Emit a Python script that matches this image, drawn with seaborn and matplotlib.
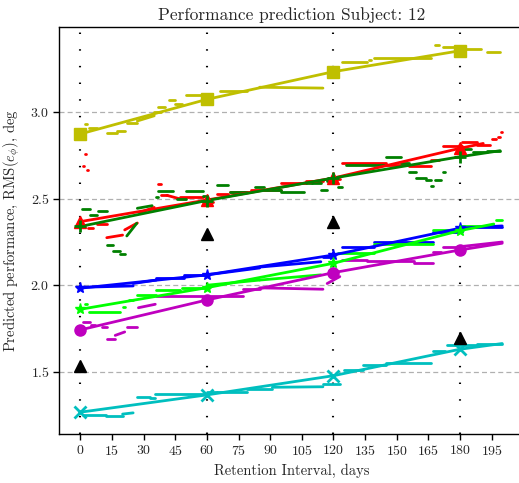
import matplotlib
matplotlib.use("Agg")
import matplotlib.pyplot as plt
import numpy as np
import pandas as pd
import seaborn as sns

# Days at which retention was tested, and the measured performance there
checkpoints = [0, 60, 120, 180]
measured = [1.535, 2.298, 2.367, 1.697]

# Model order, colours and checkpoint markers
models = ["y", "r", "g", "b", "lime", "m", "c"]
colors = {"y": "#bfbf00", "r": "#ff0000", "g": "#008000", "b": "#0000ff",
          "lime": "#00ff00", "m": "#bf00bf", "c": "#00bfbf"}
markers = {"y": "s", "r": "^", "g": "+", "b": "*", "lime": "*", "m": "o", "c": "x"}

# Fitted prediction at the checkpoints, plus the last day of the fit
fit_y = [2.875, 3.075, 3.235, 3.356]
fit_r = [2.368, 2.493, 2.620, 2.792]
fit_g = [2.340, 2.490, 2.620, 2.743]
fit_b = [1.983, 2.060, 2.175, 2.330]
fit_lime = [1.861, 1.986, 2.127, 2.316]
fit_m = [1.742, 1.915, 2.073, 2.204]
fit_c = [1.266, 1.366, 1.477, 1.630]
fit_end = {"y": (180, 3.356), "r": (191, 2.82), "g": (199, 2.778), "b": (200, 2.343),
           "lime": (196, 2.354), "m": (200, 2.243), "c": (200, 1.663)}

# Daily predictions, stored as runs: (first day, last day, value[, value at last day])
runs_y = [(2, 3, 2.93), (4, 8, 2.91), (12.5, 17.5, 2.88), (17.5, 21, 2.89), (22, 27, 2.94),
          (27, 35, 2.95, 2.98), (35, 38, 3.0), (37, 40, 3.03), (42, 45, 3.07), (45, 48, 3.05),
          (50, 60, 3.10), (66, 79, 3.125), (85, 115, 3.145, 3.14), (124, 136, 3.29),
          (137, 138, 3.30), (139, 166, 3.315), (168, 170, 3.39), (172, 178, 3.375),
          (180, 190, 3.365), (193, 199, 3.35)]
runs_r = [(1, 1.8, 2.69), (2, 2.8, 2.76), (3, 3.8, 2.666), (3.6, 6, 2.33), (7.8, 12.5, 2.353),
          (12.5, 20, 2.275, 2.29), (21, 27, 2.32, 2.36), (28, 35, 2.42, 2.45), (37, 38, 2.585),
          (38, 41, 2.52), (41, 47, 2.52, 2.50), (47, 58, 2.51), (60, 63, 2.48), (65, 70, 2.53),
          (71, 80, 2.54), (81, 95, 2.55), (95, 107, 2.59), (107, 115, 2.60), (116, 123, 2.615),
          (124, 145, 2.705), (145, 156, 2.695), (156, 166, 2.69), (166, 170, 2.724),
          (172, 181, 2.805), (181, 188, 2.83), (188, 194, 2.81), (195, 197, 2.844),
          (198, 199, 2.86), (199.3, 200, 2.884)]
runs_g = [(0.7, 4.6, 2.44), (4.6, 7.8, 2.406), (8.4, 12.5, 2.43), (12.5, 15.5, 2.233),
          (15.5, 19, 2.2), (19, 21, 2.18), (22, 26.7, 2.285, 2.358), (27, 34, 2.445, 2.46),
          (36, 37, 2.51), (37, 44, 2.547), (46, 50, 2.50), (50, 58, 2.547), (58, 60, 2.516),
          (65, 70, 2.58), (71, 79, 2.54), (83, 87, 2.57), (87, 95, 2.55), (95, 106, 2.54),
          (107, 110, 2.59), (110, 114, 2.593), (114, 117, 2.55), (117, 121, 2.6),
          (122, 124, 2.57), (126, 144, 2.695), (145, 152, 2.74), (152, 156, 2.705),
          (156, 159, 2.657), (159, 164, 2.62), (164, 166, 2.61), (166, 167, 2.575),
          (168, 171, 2.607), (172, 173, 2.657), (181, 185, 2.786), (186, 193, 2.77),
          (193, 199, 2.778)]
runs_b = [(0, 25, 1.988, 1.996), (25, 36, 2.01, 2.03), (36, 49, 2.044), (49, 60, 2.06),
          (60, 85, 2.06, 2.10), (85, 114, 2.105, 2.136), (115, 120, 2.165), (124, 139, 2.223),
          (139, 167, 2.25), (167, 180, 2.31), (180, 200, 2.339)]
runs_lime = [(2, 3, 1.892), (4, 19, 1.848), (20, 21, 1.876), (23, 25, 1.915), (27, 36, 1.944),
             (36, 47, 1.973), (48, 60, 1.983), (60, 85, 2.0, 2.03), (85, 114, 2.03, 2.06),
             (122, 139, 2.185), (139, 167, 2.24), (167, 180, 2.32), (180, 194, 2.343),
             (197, 200, 2.38)]
runs_m = [(1, 4.5, 1.79), (5, 7, 1.77), (10, 12.5, 1.76), (12.6, 16.5, 1.687),
          (16.5, 21, 1.71, 1.73), (22, 27, 1.76), (27.5, 35.5, 1.87, 1.89), (36, 58, 1.935),
          (62, 77, 1.94), (77, 85, 1.98), (85, 115, 1.985, 1.977), (117, 123, 2.01, 2.05),
          (124, 136, 2.146), (136, 158, 2.14), (158, 167, 2.127), (167, 171, 2.194),
          (172, 180, 2.223), (180, 200, 2.223, 2.25)]
runs_c = [(1, 12, 1.25), (12, 20, 1.245), (20, 25, 1.255, 1.262), (27, 33, 1.356),
          (33, 35.5, 1.348), (35.5, 60, 1.371), (60, 65, 1.382), (65, 79, 1.385),
          (79, 91, 1.398), (91, 115, 1.41, 1.413), (115, 123, 1.43), (125, 134, 1.51),
          (134, 145, 1.539), (145, 166, 1.553), (167, 173, 1.621), (174, 188, 1.655),
          (188, 200, 1.663)]

fits = {"y": fit_y, "r": fit_r, "g": fit_g, "b": fit_b, "lime": fit_lime, "m": fit_m, "c": fit_c}
runs = {"y": runs_y, "r": runs_r, "g": runs_g, "b": runs_b, "lime": runs_lime, "m": runs_m,
        "c": runs_c}

day_ticks = list(range(0, 196, 15))
perf_ticks = [1.5, 2.0, 2.5, 3.0]

sns.set_theme(style="white")
plt.rcParams["font.family"] = ["cmr10", "DejaVu Serif"]
plt.rcParams["mathtext.fontset"] = "cm"
plt.rcParams["axes.formatter.use_mathtext"] = True

fig = plt.figure(figsize=(5.19, 4.83), dpi=100)
ax = fig.add_axes([0.1143, 0.1008, 0.894, 0.8439])

# long tables for seaborn
run_rows = []
for key in models:
    for i, run in enumerate(runs[key]):
        d0, d1, v0 = run[0], run[1], run[2]
        v1 = run[3] if len(run) > 3 else v0
        run_rows.append((key, f"{key}-{i}", d0, v0))
        run_rows.append((key, f"{key}-{i}", d1, v1))
run_df = pd.DataFrame(run_rows, columns=["model", "run", "day", "rms"])

fit_rows = []
for key in models:
    for d, v in zip(checkpoints, fits[key]):
        fit_rows.append((key, d, v))
    if fit_end[key][0] > checkpoints[-1]:
        fit_rows.append((key, fit_end[key][0], fit_end[key][1]))
fit_df = pd.DataFrame(fit_rows, columns=["model", "day", "rms"])

# gridlines and retention-test days
for yv in perf_ticks:
    ax.axhline(yv, color="#b0b0b0", lw=0.9, ls=(0, (4, 2.5)), zorder=0)
for d in checkpoints:
    ax.axvline(d, color="black", lw=1.5, ls=(0, (0.7, 7.3)), zorder=1)

sns.lineplot(data=run_df, x="day", y="rms", hue="model", units="run", estimator=None,
             palette=colors, hue_order=models, lw=2.0, legend=False, sort=False,
             solid_capstyle="round", ax=ax, zorder=2)
sns.lineplot(data=fit_df, x="day", y="rms", hue="model", estimator=None, palette=colors,
             hue_order=models, lw=2.0, legend=False, sort=False, ax=ax, zorder=3)

for key in models:
    mk = markers[key]
    size = 9 if mk == "s" else 8
    ax.plot(checkpoints, fits[key], ls="none", marker=mk, color=colors[key], ms=size,
            mew=2 if mk in ("+", "x") else 1, zorder=4)

ax.plot(checkpoints, measured, ls="none", marker="^", color="black", ms=8, zorder=5)

ax.set_xlim(-10, 210)
ax.set_ylim(1.138, 3.495)
ax.set_xticks(day_ticks)
ax.set_yticks(perf_ticks)
ax.tick_params(axis="both", which="major", direction="out", length=4, width=1,
               color="black", labelsize=10, pad=3, bottom=True, left=True)
for side in ["left", "bottom", "top"]:
    ax.spines[side].set_color("black")
    ax.spines[side].set_linewidth(1.0)
ax.spines["right"].set_visible(False)

ax.set_title("Performance prediction Subject: 12", fontsize=12.5, pad=5)
ax.set_xlabel("Retention Interval, days", fontsize=10.5, labelpad=4)
ax.set_ylabel(r"Predicted performance, RMS($e_\phi$), deg", fontsize=10.5, labelpad=6)

fig.savefig("out.png", dpi=100)
